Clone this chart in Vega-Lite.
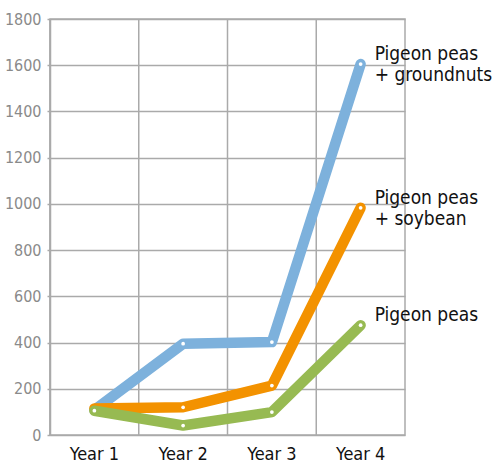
{
  "$schema": "https://vega.github.io/schema/vega-lite/v6.json",
  "autosize": "none",
  "width": 355,
  "height": 416,
  "padding": {"left": 50, "top": 19, "right": 92, "bottom": 31},
  "background": "white",
  "config": {
    "view": {"stroke": "#aaaaaa", "strokeWidth": 1.5},
    "font": "DejaVu Sans Condensed, Roboto, sans-serif"
  },
  "data": {
    "values": [
      {"series": "Pigeon peas\n+ groundnuts", "year": "Year 1", "value": 108},
      {"series": "Pigeon peas\n+ groundnuts", "year": "Year 2", "value": 395},
      {"series": "Pigeon peas\n+ groundnuts", "year": "Year 3", "value": 402},
      {"series": "Pigeon peas\n+ groundnuts", "year": "Year 4", "value": 1605},
      {"series": "Pigeon peas\n+ soybean", "year": "Year 1", "value": 115},
      {"series": "Pigeon peas\n+ soybean", "year": "Year 2", "value": 120},
      {"series": "Pigeon peas\n+ soybean", "year": "Year 3", "value": 214},
      {"series": "Pigeon peas\n+ soybean", "year": "Year 4", "value": 983},
      {"series": "Pigeon peas", "year": "Year 1", "value": 105},
      {"series": "Pigeon peas", "year": "Year 2", "value": 41},
      {"series": "Pigeon peas", "year": "Year 3", "value": 99},
      {"series": "Pigeon peas", "year": "Year 4", "value": 475}
    ]
  },
  "encoding": {
    "x": {
      "field": "year", "type": "ordinal",
      "scale": {"type": "band", "paddingInner": 0, "paddingOuter": 0},
      "axis": {"title": null, "ticks": false, "domain": false, "labelAngle": 0, "labelFont": "DejaVu Sans Condensed, Roboto, sans-serif", "labelFontSize": 18, "labelColor": "#111111", "labelPadding": 10, "grid": false}
    },
    "y": {
      "field": "value", "type": "quantitative",
      "scale": {"domain": [0, 1800], "nice": false},
      "axis": {"title": null, "format": "d", "values": [0, 200, 400, 600, 800, 1000, 1200, 1400, 1600, 1800], "grid": true, "gridColor": "#aaaaaa", "gridWidth": 1.5, "domainColor": "#aaaaaa", "domainWidth": 1.5, "tickColor": "#aaaaaa", "tickSize": 3, "tickWidth": 1.5, "labelFont": "DejaVu Sans Condensed, Roboto, sans-serif", "labelFontSize": 16, "labelColor": "#8a8a8a", "labelPadding": 6}
    }
  },
  "layer": [
    {
      "mark": {"type": "rule", "color": "#aaaaaa", "strokeWidth": 1.5},
      "transform": [{"filter": "datum.series == 'Pigeon peas'"}],
      "encoding": {"x": {"field": "year", "type": "ordinal", "bandPosition": 0}, "y": null}
    },
    {
      "transform": [{"filter": "datum.series == 'Pigeon peas\\n+ groundnuts'"}],
      "mark": {"type": "line", "color": "#7db1dc", "strokeWidth": 10.5, "strokeCap": "round", "strokeJoin": "round"}
    },
    {
      "transform": [{"filter": "datum.series == 'Pigeon peas\\n+ groundnuts'"}],
      "mark": {"type": "point", "filled": true, "color": "white", "opacity": 1, "size": 14}
    },
    {
      "transform": [{"filter": "datum.series == 'Pigeon peas\\n+ soybean'"}],
      "mark": {"type": "line", "color": "#f39200", "strokeWidth": 10.5, "strokeCap": "round", "strokeJoin": "round"}
    },
    {
      "transform": [{"filter": "datum.series == 'Pigeon peas\\n+ soybean'"}],
      "mark": {"type": "point", "filled": true, "color": "white", "opacity": 1, "size": 14}
    },
    {
      "transform": [{"filter": "datum.series == 'Pigeon peas'"}],
      "mark": {"type": "line", "color": "#97ba52", "strokeWidth": 10.5, "strokeCap": "round", "strokeJoin": "round"}
    },
    {
      "transform": [{"filter": "datum.series == 'Pigeon peas'"}],
      "mark": {"type": "point", "filled": true, "color": "white", "opacity": 1, "size": 14}
    },
    {
      "transform": [{"filter": "datum.year == 'Year 4'"}],
      "mark": {"type": "text", "align": "left", "baseline": "middle", "dx": 14, "dy": -10, "lineBreak": "\n", "lineHeight": 21, "font": "DejaVu Sans Condensed, Roboto, sans-serif", "fontSize": 19, "color": "#111111"},
      "encoding": {"text": {"field": "series"}}
    }
  ]
}
